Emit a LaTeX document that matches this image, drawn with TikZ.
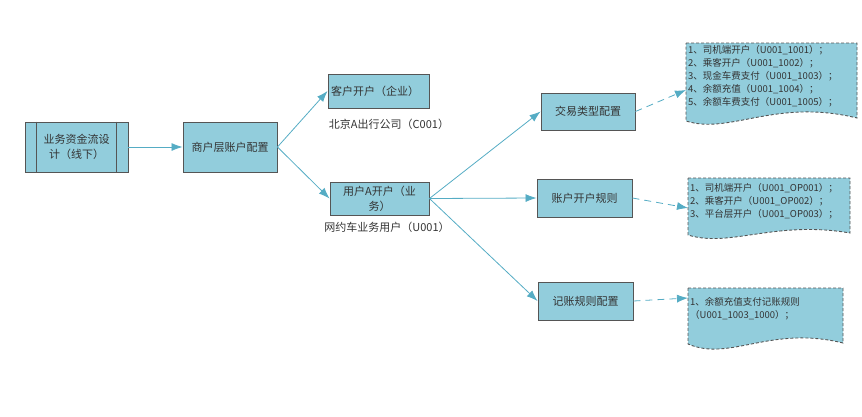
\documentclass[tikz,border=0pt]{standalone}
\usepackage{fontspec}
\newfontfamily\cjk{Noto Sans CJK SC}
\usetikzlibrary{arrows.meta}
\definecolor{boxfill}{RGB}{146,205,220}
\definecolor{boxline}{RGB}{85,85,85}
\definecolor{arrline}{RGB}{85,172,196}

\begin{document}
\begin{tikzpicture}[x=1pt, y=-1pt,
    every node/.style={font=\cjk\fontsize{11}{15}\selectfont, text=black!80, align=center},
    box/.style={rectangle, draw=boxline, fill=boxfill, line width=0.9pt, inner sep=3pt},
    docshape/.style={draw=boxline, fill=boxfill, line width=0.9pt, dash pattern=on 3pt off 2pt},
    doctext/.style={anchor=north west, align=left, inner sep=1pt, font=\cjk\fontsize{9.5}{13}\selectfont},
    arr/.style={-{Latex[length=11pt,width=8pt]}, line width=0.8pt, arrline},
    darr/.style={arr, dash pattern=on 7pt off 5pt}
]
\useasboundingbox (0,0) rectangle (862,416);

% Flow design (left)
\node[box, minimum width=103pt, minimum height=50pt] (flow) at (76.5,147) {业务资金流设\\计（线下）};
\draw[boxline, line width=0.9pt] ([xshift=12pt]flow.north west) -- ([xshift=12pt]flow.south west)
    ([xshift=-12pt]flow.north east) -- ([xshift=-12pt]flow.south east);

% Merchant layer
\node[box, minimum width=94pt, minimum height=50pt] (merchant) at (230,147) {商户层账户配置};

% Customer and user accounts
\node[box, text width=95pt, align=left, minimum height=34pt] (cust) at (378.5,91) {客户开户（企业）};
\node (custlbl) at (389,124) {北京A出行公司（C001）};
\node[box, minimum width=99pt, minimum height=33pt] (user) at (379.5,198.5) {用户A开户（业\\务）};
\node (userlbl) at (387,227) {网约车业务用户（U001）};

% Configuration boxes
\node[box, minimum width=94pt, minimum height=37pt] (trade) at (588,111.5) {交易类型配置};
\node[box, minimum width=95pt, minimum height=38pt] (acct) at (584.5,198) {账户开户规则};
\node[box, minimum width=95pt, minimum height=38pt] (book) at (585.5,301) {记账规则配置};

% Documents (right)
\draw[docshape] (686,43) -- (857,43) -- (857,118) .. controls (775,98) and (730,135) .. (686,121) -- cycle;
\draw[docshape] (688,178) -- (850,178) -- (850,233) .. controls (775,220) and (730,248) .. (688,235) -- cycle;
\draw[docshape] (688,288) -- (843,288) -- (843,343) .. controls (770,325) and (730,362) .. (688,344) -- cycle;
\node[doctext] (doc1) at (687,44.5) {1、司机端开户（U001\_1001）；\\2、乘客开户（U001\_1002）；\\3、现金车费支付（U001\_1003）；\\4、余额充值（U001\_1004）；\\5、余额车费支付（U001\_1005）；};
\node[doctext] (doc2) at (689,182) {1、司机端开户（U001\_OP001）；\\2、乘客开户（U001\_OP002）；\\3、平台层开户（U001\_OP003）；};
\node[doctext] (doc3) at (689,296) {1、余额充值支付记账规则\\（U001\_1003\_1000）；};
\coordinate (d1in) at (686,90);
\coordinate (d2in) at (688,208);
\coordinate (d3in) at (688,298);

% Arrows
\draw[arr] (flow.east) -- (merchant.west);
\draw[arr] (merchant.east) -- (cust.west);
\draw[arr] (merchant.east) -- (user.west);
\draw[arr] (user.east) -- (trade.west);
\draw[arr] (user.east) -- (acct.west);
\draw[arr] (user.east) -- (book.west);
\draw[darr] (trade.east) -- (d1in);
\draw[darr] (acct.east) -- (d2in);
\draw[darr] (book.east) -- (d3in);
\end{tikzpicture}
\end{document}
